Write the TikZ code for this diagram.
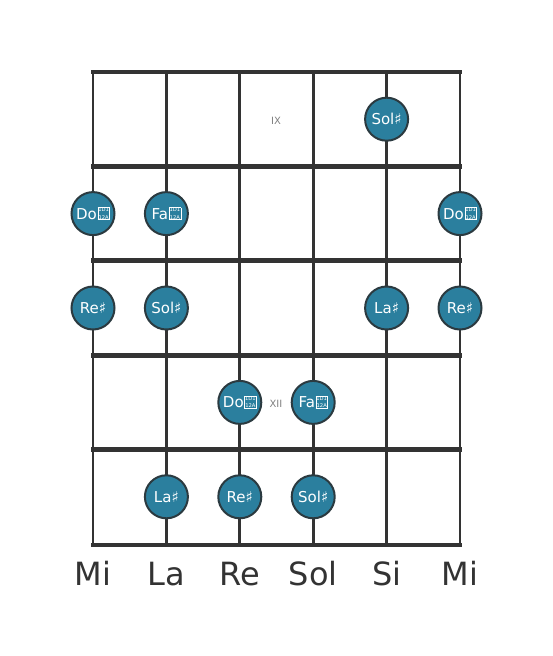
\documentclass[tikz,border=0pt]{standalone}
\usepackage{fontspec}
\setmainfont{DejaVu Sans}
\definecolor{linec}{HTML}{333333}
\definecolor{notefill}{HTML}{2B7F9E}
\definecolor{noteedge}{HTML}{2B3A40}
\definecolor{fretnum}{HTML}{808080}
\newcommand\tofubox{\kern0.6pt{\fontsize{5.2}{5.6}\selectfont\setlength{\fboxsep}{0.4pt}\setlength{\fboxrule}{0.45pt}\fbox{\shortstack[c]{1D1\\[0.3pt]12A}}}}
\tikzset{
  stringline/.style={draw=linec, line width=2.7pt},
  fretline/.style={draw=linec, line width=4.8pt},
  note/.style={circle, draw=noteedge, line width=2pt, fill=notefill, minimum size=43pt, inner sep=0pt, text=white, font=\fontsize{15}{17}\selectfont},
  fretlabel/.style={text=fretnum, font=\fontsize{10}{12}\selectfont},
  stringlabel/.style={text=linec, font=\fontsize{32}{36}\selectfont, anchor=base}
}
\begin{document}
\begin{tikzpicture}[x=1pt,y=-1pt]
\useasboundingbox (0,0) rectangle (553,656);
% string coordinates
\foreach \i/\xx in {1/93,2/166.4,3/239.8,4/313.2,5/386.6,6/460}{
  \coordinate (s\i t) at (\xx,72);
  \coordinate (s\i b) at (\xx,545);
}
\foreach \i/\yy in {0/72,1/166.4,2/260.8,3/355.2,4/449.6,5/545}{
  \coordinate (f\i l) at (93,\yy);
  \coordinate (f\i r) at (460,\yy);
}
\foreach \i in {1,...,6}{ \draw[stringline] (s\i t) -- (s\i b); }
\foreach \i in {0,...,5}{ \draw[fretline, line cap=rect] (f\i l) -- (f\i r); }
% fret numbers
\node[fretlabel] (fIX) at (276,121) {IX};
\node[fretlabel] (fXII) at (276,404) {XII};
% notes
\node[note] (n1) at (386.6,119.2) {Sol♯};
\node[note] (n2) at (93,213.6) {Do\tofubox};
\node[note] (n3) at (166.4,213.6) {Fa\tofubox};
\node[note] (n4) at (460,213.6) {Do\tofubox};
\node[note] (n5) at (93,308) {Re♯};
\node[note] (n6) at (166.4,308) {Sol♯};
\node[note] (n7) at (386.6,308) {La♯};
\node[note] (n8) at (460,308) {Re♯};
\node[note] (n9) at (239.8,402.4) {Do\tofubox};
\node[note] (n10) at (313.2,402.4) {Fa\tofubox};
\node[note] (n11) at (166.4,496.8) {La♯};
\node[note] (n12) at (239.8,496.8) {Re♯};
\node[note] (n13) at (313.2,496.8) {Sol♯};
% string names
\node[stringlabel] (l1) at (93,585) {Mi};
\node[stringlabel] (l2) at (166.4,585) {La};
\node[stringlabel] (l3) at (239.8,585) {Re};
\node[stringlabel] (l4) at (313.2,585) {Sol};
\node[stringlabel] (l5) at (386.6,585) {Si};
\node[stringlabel] (l6) at (460,585) {Mi};
\end{tikzpicture}
\end{document}
